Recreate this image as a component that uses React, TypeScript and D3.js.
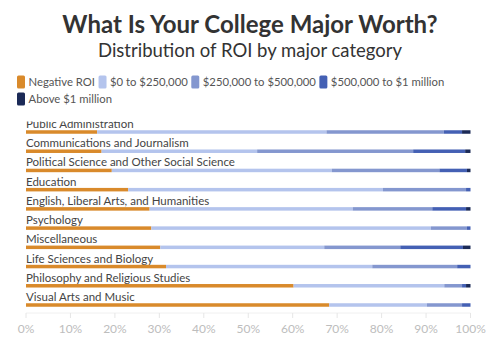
import React, { useEffect, useRef } from "react";
import * as d3 from "d3";

const categories = [
  "Public Administration",
  "Communications and Journalism",
  "Political Science and Other Social Science",
  "Education",
  "English, Liberal Arts, and Humanities",
  "Psychology",
  "Miscellaneous",
  "Life Sciences and Biology",
  "Philosophy and Religious Studies",
  "Visual Arts and Music",
];
const seriesNames = [
  "Negative ROI",
  "$0 to $250,000",
  "$250,000 to $500,000",
  "$500,000 to $1 million",
  "Above $1 million",
];
const negative = [16, 17, 19.3, 23, 27.8, 28.2, 30.2, 31.5, 60.2, 68.2];
const zeroTo250k = [51.6, 35, 49.5, 57.3, 45.7, 62.9, 36.9, 46.4, 33.9, 22];
const k250To500k = [26.4, 35.1, 24.2, 18.7, 17.9, 8.1, 17.1, 19.1, 4, 7.9];
const k500To1m = [4.1, 11.7, 6.2, 1, 7.6, 0.8, 14.1, 3, 0.9, 1.9];
const above1m = [1.9, 1.2, 0.8, 0, 1, 0, 1.7, 0, 1, 0];
const xTicks = [0, 10, 20, 30, 40, 50, 60, 70, 80, 90, 100];

const colors = ["#d98a2b", "#b4c4ed", "#8497cf", "#4460b4", "#1b2a57"];
const FONT = "Lato, 'Open Sans', sans-serif";

export default function App() {
  const ref = useRef<SVGSVGElement>(null);
  useEffect(() => {
    const svg = d3.select(ref.current);
    svg.selectAll("*").remove();
    const W = 500;

    svg.append("text").attr("x", W / 2).attr("y", 33).attr("text-anchor", "middle")
      .attr("font-family", FONT).attr("font-weight", 700).attr("font-size", 24)
      .attr("fill", "#333").text("What Is Your College Major Worth?");
    svg.append("text").attr("x", W / 2).attr("y", 57).attr("text-anchor", "middle")
      .attr("font-family", FONT).attr("font-size", 18.5)
      .attr("fill", "#333").text("Distribution of ROI by major category");

    // legend
    const lg = svg.append("g");
    let lx = 17;
    let ly = 82;
    seriesNames.forEach((name, i) => {
      if (i === 4) { lx = 17; ly += 17; }
      const g = lg.append("g").attr("transform", `translate(${lx},${ly})`);
      g.append("rect").attr("x", 0).attr("y", -6.5).attr("width", 8).attr("height", 13)
        .attr("rx", 1.5).attr("fill", colors[i]);
      const t = g.append("text").attr("x", 11.5).attr("y", 4.2)
        .attr("font-family", FONT).attr("font-size", 11.3).attr("fill", "#555").text(name);
      const w = 11.5 + (t.node() as SVGTextElement).getComputedTextLength() + 3.5;
      lx += w;
    });

    const x = d3.scaleLinear().domain([0, 100]).range([26, 470.5]);
    const y = d3.scalePoint<string>().domain(categories).range([132, 305]);

    const rows = categories.map((c, i) => ({
      cat: c,
      s0: negative[i], s1: zeroTo250k[i], s2: k250To500k[i], s3: k500To1m[i], s4: above1m[i],
    }));
    const stack = d3.stack<any>().keys(["s0", "s1", "s2", "s3", "s4"]);
    const stacked = stack(rows);

    const defs = svg.append("defs");
    defs.append("clipPath").attr("id", "clipArea").append("rect")
      .attr("x", 0).attr("y", 121.5).attr("width", W).attr("height", 228);
    const plot = svg.append("g").attr("clip-path", "url(#clipArea)");

    // axis ticks
    const axisY = 313;
    plot.append("line").attr("x1", x(0)).attr("x2", x(100)).attr("y1", axisY).attr("y2", axisY)
      .attr("stroke", "#f0f0f0").attr("stroke-width", 1);
    xTicks.forEach((t) => {
      plot.append("line").attr("x1", x(t)).attr("x2", x(t)).attr("y1", axisY).attr("y2", axisY + 5)
        .attr("stroke", "#e6e6e6").attr("stroke-width", 1);
      plot.append("text").attr("x", x(t)).attr("y", 333).attr("text-anchor", "middle")
        .attr("font-family", FONT).attr("font-size", 12).attr("fill", "#bdbdbd").text(`${t}%`);
    });

    // labels
    categories.forEach((c) => {
      plot.append("text").attr("x", x(0)).attr("y", (y(c) as number) - 4)
        .attr("font-family", FONT).attr("font-size", 11.5).attr("fill", "#444").text(c);
    });

    const barH = 3.5;
    stacked.forEach((layer, li) => {
      plot.append("g").selectAll("rect").data(layer).join("rect")
        .attr("x", (d) => x(d[0]))
        .attr("width", (d) => Math.max(0, x(d[1]) - x(d[0])))
        .attr("y", (d) => (y(d.data.cat) as number) - barH / 2)
        .attr("height", barH)
        .attr("fill", colors[li]);
    });
  }, []);
  return (
    <svg ref={ref} width={500} height={351}
      style={{ position: "absolute", left: 0, top: 0, background: "#fff" }} />
  );
}
